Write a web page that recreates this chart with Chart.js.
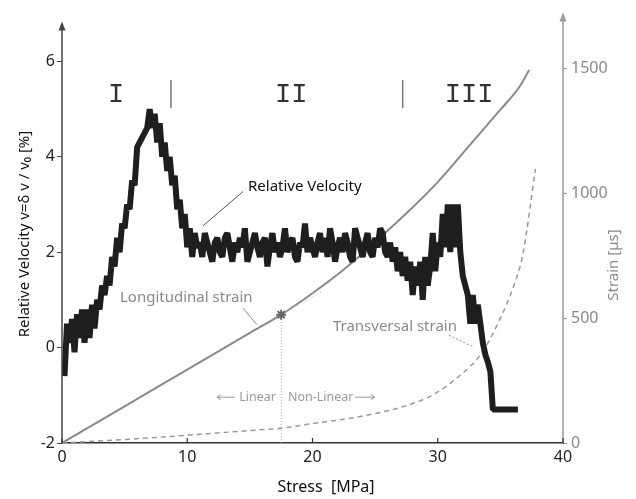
<!DOCTYPE html>
<html>
<head>
<meta charset="utf-8">
<script src="https://cdn.jsdelivr.net/npm/chart.js@4.4.1/dist/chart.umd.min.js"></script>
<style>
  html, body { margin: 0; padding: 0; background: #fff; overflow: hidden; }
  #wrap { width: 636px; height: 499px; position: relative; }
</style>
</head>
<body>
<div id="wrap"><canvas id="chart"></canvas></div>
<script>
// relative velocity (left axis, %) vs stress (MPa)
const velStress = [
  0.2, 0.4, 0.6, 0.8, 1.0, 1.2, 1.4, 1.6, 1.8, 2.0,
  2.2, 2.4, 2.6, 2.8, 3.0, 3.2, 3.4, 3.6, 3.8, 4.0,
  4.2, 4.4, 4.6, 4.8, 5.0, 5.2, 5.4, 5.6, 5.8, 6.0,
  6.2, 6.4, 6.6, 6.8, 7.0, 7.2, 7.4, 7.6, 7.8, 8.0,
  8.2, 8.4, 8.6, 8.8, 9.0, 9.2, 9.4, 9.6, 9.8, 10.0,
  10.2, 10.4, 10.6, 10.8, 11.0, 11.2, 11.4, 11.6, 11.8, 12.0,
  12.2, 12.4, 12.6, 12.8, 13.0, 13.2, 13.4, 13.6, 13.8, 14.0,
  14.2, 14.4, 14.6, 14.8, 15.0, 15.2, 15.4, 15.6, 15.8, 16.0,
  16.2, 16.4, 16.6, 16.8, 17.0, 17.2, 17.4, 17.6, 17.8, 18.0,
  18.2, 18.4, 18.6, 18.8, 19.0, 19.2, 19.4, 19.6, 19.8, 20.0,
  20.2, 20.4, 20.6, 20.8, 21.0, 21.2, 21.4, 21.6, 21.8, 22.0,
  22.2, 22.4, 22.6, 22.8, 23.0, 23.2, 23.4, 23.6, 23.8, 24.0,
  24.2, 24.4, 24.6, 24.8, 25.0, 25.2, 25.4, 25.6, 25.8, 26.0,
  26.2, 26.4, 26.6, 26.8, 27.0, 27.2, 27.4, 27.6, 27.8, 28.0,
  28.2, 28.4, 28.6, 28.8, 29.0, 29.2, 29.4, 29.6, 29.8, 30.0,
  30.2, 30.4, 30.6, 30.8, 31.0, 31.2, 31.4, 31.6, 31.8, 32.0,
  32.2, 32.4, 32.6, 32.8, 33.0, 33.2, 33.4, 33.6, 33.8, 34.0,
  34.2, 34.4, 34.6, 36.4
];
const velValues = [
  -0.6, 0.5, 0.1, 0.6, -0.1, 0.7, 0.2, 0.8, 0.1, 0.8,
  0.2, 0.9, 0.4, 1.0, 0.8, 1.3, 1.1, 1.5, 1.3, 1.9,
  1.7, 2.3, 2.0, 2.6, 2.5, 3.0, 2.9, 3.5, 3.4, 4.2,
  4.3, 4.4, 4.5, 4.6, 5.0, 4.6, 4.9, 4.3, 4.7, 4.0,
  4.3, 3.7, 4.0, 3.4, 3.6, 2.9, 3.1, 2.5, 2.8, 2.1,
  2.5, 1.9, 2.4, 2.1, 2.2, 1.9, 2.4, 2.2, 2.0, 1.8,
  2.2, 2.3, 2.0, 1.9, 2.3, 2.4, 2.1, 1.8, 2.2, 2.0,
  2.3, 2.1, 2.5, 1.8, 2.0, 2.2, 2.4, 2.1, 1.9, 2.2,
  2.3, 1.7, 2.1, 2.4, 2.0, 2.2, 1.9, 2.1, 2.5, 2.0,
  2.2, 2.3, 1.9, 1.8, 2.2, 2.1, 2.6, 2.0, 2.3, 2.1,
  1.9, 2.2, 2.4, 2.0, 2.3, 1.9, 2.5, 2.2, 1.8, 2.1,
  2.3, 2.0, 2.4, 2.2, 1.9, 1.8, 2.5, 2.3, 2.1, 1.9,
  2.2, 2.4, 2.0, 1.9, 2.3, 2.1, 2.5, 2.4, 2.0, 1.9,
  2.2, 1.8, 2.1, 1.6, 2.0, 1.5, 1.9, 1.4, 1.8, 1.1,
  1.7, 1.3, 1.8, 1.0, 1.9, 1.3, 1.7, 2.4, 1.6, 2.2,
  1.9, 2.8, 2.1, 3.0, 2.0, 3.0, 2.1, 3.0, 2.0, 1.5,
  1.3, 1.1, 0.5, 1.1, 0.5, 0.9, 0.5, 0.1, -0.15, -0.3,
  -0.5, -1.3, -1.3, -1.3
];

// longitudinal strain (right axis) vs stress
const longStress = [0, 5, 10, 15, 17.5, 20, 22.5, 25, 27.5, 30, 32.5, 35, 36.5, 37.3];
const longStrain = [0, 147, 294, 441, 514, 600, 695, 805, 920, 1045, 1190, 1335, 1425, 1494];

// transversal strain (right axis) vs stress
const transStress = [0, 5, 10, 15, 17.5, 20, 22.5, 25, 27.5, 29.5, 31.5, 33.5, 35, 36, 36.8, 37.8];
const transStrain = [0, 14, 31, 50, 59, 78, 95, 118, 150, 190, 259, 360, 500, 620, 757, 1098];

// end of the linear part and its extension
const limitStress = [17.5, 20.8];
const limitStrain = [514, 610];

// phase boundaries I | II | III
const phaseStress = [8.7, 27.2];
const phaseMarkRange = [5.02, 5.61];

const xTicks = [0, 10, 20, 30, 40];
const velTicks = [-2, 0, 2, 4, 6];
const strainTicks = [0, 500, 1000, 1500];

function pairs(xs, ys) {
  return xs.map((x, i) => ({ x: x, y: ys[i] }));
}

const phaseLines = [];
phaseStress.forEach(s => {
  phaseLines.push({ x: s, y: phaseMarkRange[0] }, { x: s, y: phaseMarkRange[1] }, { x: s, y: null });
});

const GRAY = '#8a8a8a';
const FONT = 'Noto Sans';
Chart.defaults.font.family = FONT;

const decor = {
  id: 'decor',
  afterDraw(chart) {
    const ctx = chart.ctx;
    const a = chart.chartArea;
    const sx = chart.scales.x, sy = chart.scales.y;
    const X = v => sx.getPixelForValue(v);
    const Y = v => sy.getPixelForValue(v);
    ctx.save();

    // left axis with arrow
    ctx.strokeStyle = '#444';
    ctx.fillStyle = '#444';
    ctx.lineWidth = 1.5;
    ctx.beginPath();
    ctx.moveTo(a.left, a.bottom);
    ctx.lineTo(a.left, a.top + 12);
    ctx.stroke();
    ctx.beginPath();
    ctx.moveTo(a.left, a.top + 8);
    ctx.lineTo(a.left - 3.5, a.top + 17);
    ctx.lineTo(a.left + 3.5, a.top + 17);
    ctx.closePath();
    ctx.fill();

    // right axis with arrow
    ctx.strokeStyle = '#999';
    ctx.fillStyle = '#999';
    ctx.beginPath();
    ctx.moveTo(a.right, a.bottom);
    ctx.lineTo(a.right, a.top + 4);
    ctx.stroke();
    ctx.beginPath();
    ctx.moveTo(a.right, a.top - 1);
    ctx.lineTo(a.right - 3.5, a.top + 8);
    ctx.lineTo(a.right + 3.5, a.top + 8);
    ctx.closePath();
    ctx.fill();

    // inner x ticks
    ctx.strokeStyle = '#333';
    ctx.lineWidth = 1.2;
    xTicks.forEach(t => {
      ctx.beginPath();
      ctx.moveTo(X(t), a.bottom);
      ctx.lineTo(X(t), a.bottom - 5);
      ctx.stroke();
    });

    // roman numerals
    ctx.fillStyle = '#333';
    ctx.font = '27px "Liberation Mono"';
    ctx.textAlign = 'center';
    ctx.textBaseline = 'middle';
    ctx.fillText('I', X(4.31), Y(5.3));
    ctx.fillText('II', X(18.3), Y(5.3));
    ctx.fillText('III', X(32.5), Y(5.3));

    // curve labels
    ctx.textAlign = 'left';
    ctx.font = '15px "' + FONT + '"';
    ctx.fillStyle = '#111';
    ctx.fillText('Relative Velocity', X(14.85), Y(3.37));
    ctx.fillStyle = GRAY;
    ctx.fillText('Longitudinal strain', X(4.63), Y(1.04));
    ctx.fillText('Transversal strain', X(21.63), Y(0.44));

    // leader lines
    ctx.lineWidth = 1;
    ctx.strokeStyle = '#555';
    ctx.beginPath();
    ctx.moveTo(X(14.45), Y(3.27));
    ctx.lineTo(X(11.25), Y(2.55));
    ctx.stroke();
    ctx.strokeStyle = GRAY;
    ctx.beginPath();
    ctx.moveTo(X(14.45), Y(0.83));
    ctx.lineTo(X(15.56), Y(0.48));
    ctx.stroke();
    ctx.setLineDash([2, 2]);
    ctx.beginPath();
    ctx.moveTo(X(30.89), Y(0.26));
    ctx.lineTo(X(32.88), Y(0.01));
    ctx.stroke();
    ctx.setLineDash([]);

    // linear / non-linear
    ctx.font = '12.5px "' + FONT + '"';
    ctx.fillStyle = '#999';
    ctx.textAlign = 'right';
    ctx.fillText('Linear', X(17.08), Y(-1.04));
    ctx.textAlign = 'left';
    ctx.fillText('Non-Linear', X(18.04), Y(-1.04));
    ctx.strokeStyle = '#999';
    const yA = Y(-1.04);
    ctx.beginPath();
    ctx.moveTo(X(12.37), yA); ctx.lineTo(X(13.81), yA);
    ctx.moveTo(X(12.37), yA); ctx.lineTo(X(12.37) + 4, yA - 2.5);
    ctx.moveTo(X(12.37), yA); ctx.lineTo(X(12.37) + 4, yA + 2.5);
    ctx.moveTo(X(23.38), yA); ctx.lineTo(X(24.98), yA);
    ctx.moveTo(X(24.98), yA); ctx.lineTo(X(24.98) - 4, yA - 2.5);
    ctx.moveTo(X(24.98), yA); ctx.lineTo(X(24.98) - 4, yA + 2.5);
    ctx.stroke();

    // axis titles
    ctx.textAlign = 'center';
    ctx.fillStyle = '#111';
    ctx.font = '16px "' + FONT + '"';
    ctx.fillText('Stress  [MPa]', 326, 487);
    ctx.save();
    ctx.translate(25, 234);
    ctx.rotate(-Math.PI / 2);
    ctx.font = '15px "' + FONT + '"';
    ctx.fillText('Relative Velocity v=\u03b4 v / v\u2080 [%]', 0, 0);
    ctx.restore();
    ctx.save();
    ctx.translate(614, 265);
    ctx.rotate(-Math.PI / 2);
    ctx.fillStyle = GRAY;
    ctx.font = '15px "' + FONT + '"';
    ctx.fillText('Strain [\u03bcs]', 0, 0);
    ctx.restore();

    ctx.restore();
  }
};

const chart = new Chart(document.getElementById('chart'), {
  type: 'line',
  data: {
    datasets: [
      {
        label: 'Relative Velocity',
        data: pairs(velStress, velValues),
        yAxisID: 'y',
        borderColor: '#1e1e1e',
        borderWidth: 6,
        pointRadius: 0,
        tension: 0,
        borderJoinStyle: 'bevel',
        borderCapStyle: 'butt'
      },
      {
        label: 'Phase boundaries',
        data: phaseLines,
        yAxisID: 'y',
        borderColor: '#777',
        borderWidth: 1.5,
        pointRadius: 0,
        spanGaps: false
      },
      {
        label: 'Limit of linearity',
        type: 'scatter',
        data: [{ x: limitStress[0], y: limitStrain[0] }],
        yAxisID: 'y2',
        pointStyle: 'star',
        pointRadius: 5,
        borderColor: '#666',
        borderWidth: 2
      },
      {
        label: 'Linear extension',
        data: pairs(limitStress, limitStrain),
        yAxisID: 'y2',
        borderColor: '#bbb',
        borderWidth: 1,
        borderDash: [1, 2],
        pointRadius: 0
      },
      {
        label: 'Limit marker',
        data: [{ x: limitStress[0], y: 0 }, { x: limitStress[0], y: limitStrain[0] }],
        yAxisID: 'y2',
        borderColor: '#aaa',
        borderWidth: 1,
        borderDash: [1, 2],
        pointRadius: 0
      },
      {
        label: 'Longitudinal strain',
        data: pairs(longStress, longStrain),
        yAxisID: 'y2',
        borderColor: GRAY,
        borderWidth: 2,
        pointRadius: 0,
        cubicInterpolationMode: 'monotone'
      },
      {
        label: 'Transversal strain',
        data: pairs(transStress, transStrain),
        yAxisID: 'y2',
        borderColor: '#999',
        borderWidth: 1.5,
        borderDash: [5, 4],
        pointRadius: 0,
        cubicInterpolationMode: 'monotone'
      }
    ]
  },
  options: {
    animation: false,
    responsive: true,
    maintainAspectRatio: false,
    layout: { padding: { top: 5, left: 0, right: 0, bottom: 0 } },
    plugins: {
      legend: { display: false },
      tooltip: { enabled: false }
    },
    scales: {
      x: {
        type: 'linear',
        min: 0,
        max: 40,
        afterFit: s => { s.height = 56; },
        afterBuildTicks: s => { s.ticks = xTicks.map(v => ({ value: v })); },
        grid: { display: true, drawOnChartArea: false, drawTicks: false },
        border: { display: true, color: '#333', width: 1.5 },
        ticks: { color: '#222', font: { size: 16 }, padding: 5, maxRotation: 0, callback: v => String(v) }
      },
      y: {
        type: 'linear',
        position: 'left',
        min: -2,
        max: 7,
        afterFit: s => { s.width = 62; },
        afterBuildTicks: s => { s.ticks = velTicks.map(v => ({ value: v })); },
        grid: { display: true, drawOnChartArea: false, drawTicks: true, tickLength: 5, color: '#444' },
        border: { display: false },
        ticks: { color: '#222', font: { size: 16 }, padding: 2, callback: v => String(v) }
      },
      y2: {
        type: 'linear',
        position: 'right',
        min: 0,
        max: 1720,
        afterFit: s => { s.width = 73; },
        afterBuildTicks: s => { s.ticks = strainTicks.map(v => ({ value: v })); },
        grid: { display: true, drawOnChartArea: false, drawTicks: true, tickLength: 4, color: '#999' },
        border: { display: false },
        ticks: { color: GRAY, font: { size: 16 }, padding: 4, callback: v => String(v) }
      }
    }
  },
  plugins: [decor]
});
</script>
</body>
</html>
